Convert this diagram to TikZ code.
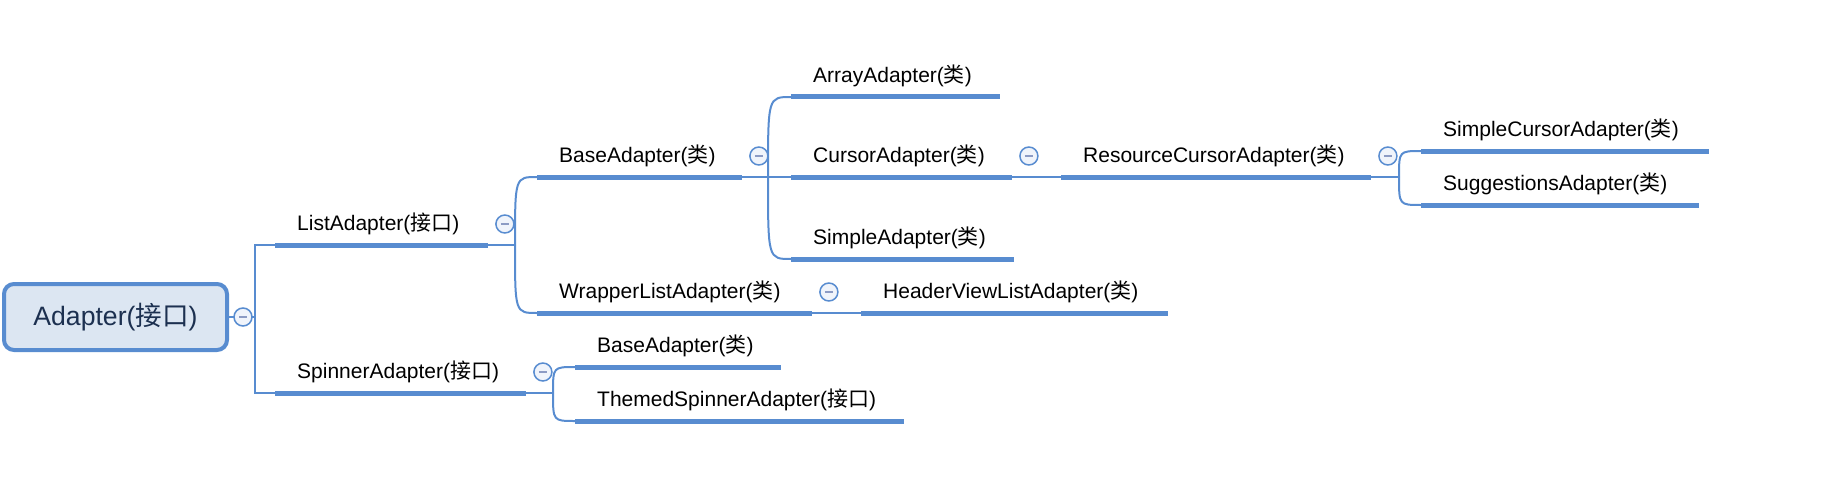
\documentclass[tikz,border=0pt]{standalone}
\usepackage{fontspec}
\setmainfont{Liberation Sans}
\newfontfamily\cjk{Noto Sans CJK SC}
\usetikzlibrary{calc}
\definecolor{mapblue}{RGB}{88,140,208}
\definecolor{rootfill}{RGB}{220,230,242}
\definecolor{roottext}{RGB}{28,48,80}
\definecolor{foldfill}{RGB}{240,244,251}
\definecolor{foldbar}{RGB}{140,155,196}
\newcommand{\jk}{{\cjk 接口}}
\newcommand{\lei}{{\cjk 类}}
\tikzset{
    root/.style={draw=mapblue, fill=rootfill, line width=4pt, rounded corners=10pt,
        minimum width=223pt, minimum height=66pt, text=roottext,
        font=\fontsize{26.6}{30}\selectfont},
    topic/.style={anchor=south west, inner xsep=22pt, inner ysep=14pt, text height=15pt,
        text depth=0pt, align=left, text width=#1, font=\fontsize{21}{25}\selectfont},
    uline/.style={draw=mapblue, line width=5pt},
    link/.style={draw=mapblue, line width=2pt},
    fold/.style={draw=mapblue, circle, fill=foldfill, line width=1.5pt, minimum size=18pt,
        inner sep=0pt, text=foldbar}
}
\begin{document}
\begin{tikzpicture}[x=1pt, y=-1pt]
        \useasboundingbox (0,0) rectangle (1830,484);

        \node [root] (adapter) at (115.5, 317) {Adapter(\jk)};

        \node [topic=169pt] (list)     at (275, 245)  {ListAdapter(\jk)};
        \node [topic=207pt] (spin)     at (275, 393)  {SpinnerAdapter(\jk)};
        \node [topic=161pt] (base)     at (537, 177)  {BaseAdapter(\lei)};
        \node [topic=231pt] (wrapper)  at (537, 313)  {WrapperListAdapter(\lei)};
        \node [topic=165pt] (array)    at (791, 97)   {ArrayAdapter(\lei)};
        \node [topic=177pt] (cursor)   at (791, 177)  {CursorAdapter(\lei)};
        \node [topic=179pt] (simple)   at (791, 259)  {SimpleAdapter(\lei)};
        \node [topic=266pt] (resource) at (1061, 177) {ResourceCursorAdapter(\lei)};
        \node [topic=263pt] (header)   at (861, 313)  {HeaderViewListAdapter(\lei)};
        \node [topic=244pt] (scursor)  at (1421, 151) {SimpleCursorAdapter(\lei)};
        \node [topic=234pt] (suggest)  at (1421, 205) {SuggestionsAdapter(\lei)};
        \node [topic=162pt] (sbase)    at (575, 367)  {BaseAdapter(\lei)};
        \node [topic=285pt] (themed)   at (575, 421)  {ThemedSpinnerAdapter(\jk)};

        \coordinate (jroot) at (255, 317);
        \coordinate (jlist) at (515, 245);
        \coordinate (jbase) at (768, 177);
        \coordinate (jres)  at (1399, 177);
        \coordinate (jspin) at (553, 393);

        % branches
        \draw [link] (adapter.east) -- (jroot);
        \draw [link] (list.south west) -| (jroot) |- (spin.south west);
        \draw [link] (list.south east) -- (jlist);
        \draw [link] (jlist) .. controls (jlist |- base.south west) .. (base.south west);
        \draw [link] (jlist) .. controls (jlist |- wrapper.south west) .. (wrapper.south west);
        \draw [link] (base.south east) -- (jbase) -- (cursor.south west);
        \draw [link] (jbase) .. controls (jbase |- array.south west) .. (array.south west);
        \draw [link] (jbase) .. controls (jbase |- simple.south west) .. (simple.south west);
        \draw [link] (cursor.south east) -- (resource.south west);
        \draw [link] (resource.south east) -- (jres);
        \draw [link] (jres) .. controls (jres |- scursor.south west) .. (scursor.south west);
        \draw [link] (jres) .. controls (jres |- suggest.south west) .. (suggest.south west);
        \draw [link] (wrapper.south east) -- (header.south west);
        \draw [link] (spin.south east) -- (jspin);
        \draw [link] (jspin) .. controls (jspin |- sbase.south west) .. (sbase.south west);
        \draw [link] (jspin) .. controls (jspin |- themed.south west) .. (themed.south west);

        % underlines
        \draw [uline] (list.south west) -- (list.south east);
        \draw [uline] (spin.south west) -- (spin.south east);
        \draw [uline] (base.south west) -- (base.south east);
        \draw [uline] (wrapper.south west) -- (wrapper.south east);
        \draw [uline] (array.south west) -- (array.south east);
        \draw [uline] (cursor.south west) -- (cursor.south east);
        \draw [uline] (simple.south west) -- (simple.south east);
        \draw [uline] (resource.south west) -- (resource.south east);
        \draw [uline] (header.south west) -- (header.south east);
        \draw [uline] (scursor.south west) -- (scursor.south east);
        \draw [uline] (suggest.south west) -- (suggest.south east);
        \draw [uline] (sbase.south west) -- (sbase.south east);
        \draw [uline] (themed.south west) -- (themed.south east);

        % fold markers
        \node [fold] (adapterfold)  at (243, 317) {\rule{8pt}{2pt}};
        \node [fold] (listfold)     at ($(list.south east)+(16.5,-21)$) {\rule{8pt}{2pt}};
        \node [fold] (spinfold)     at ($(spin.south east)+(16.5,-21)$) {\rule{8pt}{2pt}};
        \node [fold] (basefold)     at ($(base.south east)+(16.5,-21)$) {\rule{8pt}{2pt}};
        \node [fold] (wrapperfold)  at ($(wrapper.south east)+(16.5,-21)$) {\rule{8pt}{2pt}};
        \node [fold] (cursorfold)   at ($(cursor.south east)+(16.5,-21)$) {\rule{8pt}{2pt}};
        \node [fold] (resourcefold) at ($(resource.south east)+(16.5,-21)$) {\rule{8pt}{2pt}};
    \end{tikzpicture}
\end{document}
